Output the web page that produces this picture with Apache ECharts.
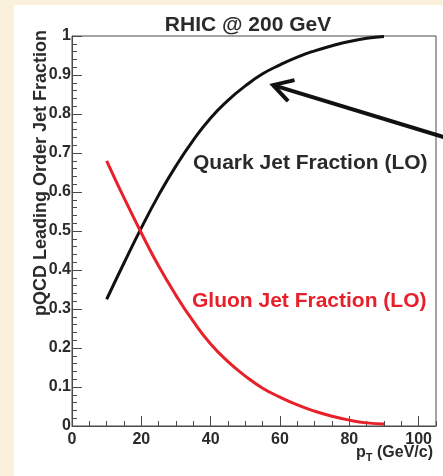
<!DOCTYPE html>
<html>
<head>
<meta charset="utf-8">
<script src="https://cdn.jsdelivr.net/npm/echarts@6/dist/echarts.min.js"></script>
<style>
  html, body { margin: 0; padding: 0; background: #fbf0dc; }
  #chart { width: 443px; height: 476px; }
</style>
</head>
<body>
<div id="chart"></div>
<script>
// Transverse momentum (GeV/c) sample points
const pT = [10, 15, 20, 25, 30, 35, 40, 45, 50, 55, 60, 65, 70, 75, 80, 85, 90];
// LO quark-jet fraction vs pT
const quarkFraction = [0.325, 0.418, 0.508, 0.592, 0.667, 0.733, 0.79, 0.835, 0.872, 0.903, 0.926, 0.946, 0.962, 0.975, 0.986, 0.994, 0.999];
// LO gluon-jet fraction vs pT
const gluonFraction = [0.68, 0.585, 0.495, 0.41, 0.335, 0.268, 0.21, 0.165, 0.128, 0.097, 0.074, 0.054, 0.038, 0.025, 0.015, 0.008, 0.005];

const xTicks = [0, 20, 40, 60, 80, 100];
const yTicks = [0, 0.1, 0.2, 0.3, 0.4, 0.5, 0.6, 0.7, 0.8, 0.9, 1];

// Arrow annotation pointing at the quark curve (data coordinates)
const arrowTip = [58, 0.874];
const arrowTail = [107.2, 0.741];

const FONT = '"Liberation Sans", Arial, Helvetica, sans-serif';
const INK = '#2a2a2a';
const AXIS = '#4a4a4a';
const RED = '#e8202a';

const chart = echarts.init(document.getElementById('chart'));

function pairs(xs, ys) { return xs.map((x, i) => [x, ys[i]]); }

const option = {
  backgroundColor: '#fbf0dc',
  animation: false,
  grid: {
    left: 72, right: 7, top: 36, bottom: 50,
    show: true, borderColor: AXIS, borderWidth: 1, backgroundColor: 'transparent'
  },
  xAxis: [
    {
      type: 'value', min: 0, max: 105, interval: 20,
      axisLine: { show: true, lineStyle: { color: AXIS, width: 1 } },
      axisTick: { show: true, inside: true, length: 10, lineStyle: { color: AXIS } },
      axisLabel: {
        show: true, margin: 6, color: INK, fontFamily: FONT, fontSize: 16, fontWeight: 'bold',
        showMaxLabel: false,
        formatter: v => (xTicks.indexOf(v) >= 0 ? String(v) : '')
      },
      splitLine: { show: false }
    },
    {
      // minor ticks every 5 GeV/c
      type: 'value', min: 0, max: 105, interval: 5, position: 'bottom',
      axisLine: { show: false },
      axisTick: { show: true, inside: true, length: 5, lineStyle: { color: AXIS } },
      axisLabel: { show: false },
      splitLine: { show: false }
    }
  ],
  yAxis: {
    type: 'value', min: 0, max: 1, interval: 0.1,
    axisLine: { show: true, lineStyle: { color: AXIS, width: 1 } },
    axisTick: { show: true, inside: true, length: 10, lineStyle: { color: AXIS } },
    minorTick: { show: true, splitNumber: 5, length: 5, lineStyle: { color: AXIS } },
    axisLabel: {
      show: true, margin: 1, color: INK, fontFamily: FONT, fontSize: 16, fontWeight: 'bold',
      formatter: v => {
        const t = yTicks.find(y => Math.abs(y - v) < 1e-6);
        return t === undefined ? '' : String(t);
      }
    },
    splitLine: { show: false }
  },
  series: [
    {
      name: 'Quark Jet Fraction (LO)', type: 'line', xAxisIndex: 0,
      data: pairs(pT, quarkFraction), smooth: true, showSymbol: false,
      lineStyle: { color: '#111111', width: 3 }
    },
    {
      name: 'Gluon Jet Fraction (LO)', type: 'line', xAxisIndex: 0,
      data: pairs(pT, gluonFraction), smooth: true, showSymbol: false,
      lineStyle: { color: RED, width: 3 }
    }
  ]
};

chart.setOption(option);

// Arrow geometry in pixels, derived from data coordinates
const tip = chart.convertToPixel({ gridIndex: 0 }, arrowTip);
const tail = chart.convertToPixel({ gridIndex: 0 }, arrowTail);
const dx = tail[0] - tip[0], dy = tail[1] - tip[1];
const len = Math.hypot(dx, dy);
const ux = dx / len, uy = dy / len;
const headLen = 22, ang = Math.PI / 6;
function rot(x, y, a) { return [x * Math.cos(a) - y * Math.sin(a), x * Math.sin(a) + y * Math.cos(a)]; }
const b1 = rot(ux, uy, ang), b2 = rot(ux, uy, -ang);

chart.setOption({
  graphic: [
    // white page panel behind the plot
    { type: 'rect', z: -10, silent: true, shape: { x: 14, y: 5, width: 443, height: 476 }, style: { fill: '#ffffff' } },
    {
      type: 'text', x: 248, y: 25, z: 10,
      style: { text: 'RHIC @ 200 GeV', fill: INK, font: 'bold 21px ' + FONT, align: 'center', verticalAlign: 'middle' }
    },
    {
      type: 'text', x: 41, y: 173, rotation: Math.PI / 2, z: 10,
      style: { text: 'pQCD Leading Order Jet Fraction', fill: INK, font: 'bold 18px ' + FONT, align: 'center', verticalAlign: 'middle' }
    },
    {
      type: 'text', x: 433, y: 453, z: 10,
      style: {
        text: '{p|p}{t|T}{p| (GeV/c)}',
        align: 'right', verticalAlign: 'middle',
        rich: {
          p: { fill: INK, font: 'bold 16px ' + FONT },
          t: { fill: INK, font: 'bold 11px ' + FONT, padding: [10, 0, 0, 0] }
        }
      }
    },
    {
      type: 'text', x: 193, y: 163, z: 10,
      style: { text: 'Quark Jet Fraction (LO)', fill: INK, font: 'bold 21px ' + FONT, verticalAlign: 'middle' }
    },
    {
      type: 'text', x: 192, y: 301, z: 10,
      style: { text: 'Gluon Jet Fraction (LO)', fill: RED, font: 'bold 21px ' + FONT, verticalAlign: 'middle' }
    },
    {
      type: 'line', z: 10,
      shape: { x1: tail[0], y1: tail[1], x2: tip[0], y2: tip[1] },
      style: { stroke: '#111111', lineWidth: 4 }
    },
    {
      type: 'polyline', z: 10,
      shape: { points: [
        [tip[0] + b1[0] * headLen, tip[1] + b1[1] * headLen],
        [tip[0], tip[1]],
        [tip[0] + b2[0] * headLen, tip[1] + b2[1] * headLen]
      ] },
      style: { stroke: '#111111', lineWidth: 4, fill: null, lineJoin: 'miter' }
    }
  ]
});
</script>
</body>
</html>
